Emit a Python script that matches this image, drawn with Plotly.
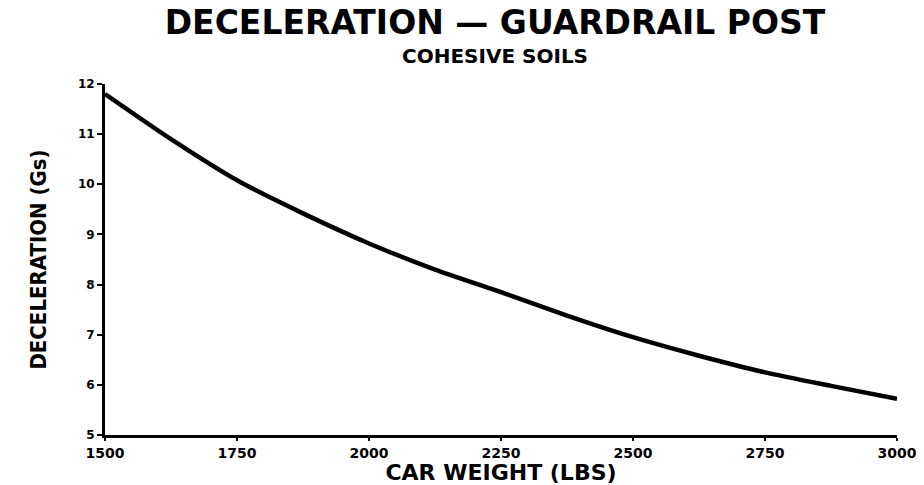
import plotly.graph_objects as go

car_weight = [1500, 1625, 1750, 1875, 2000, 2125, 2250, 2375, 2500, 2625, 2750, 2875, 3000]
deceleration = [11.8, 10.9, 10.08, 9.42, 8.82, 8.3, 7.85, 7.38, 6.95, 6.58, 6.25, 5.98, 5.72]
x_ticks = [1500, 1750, 2000, 2250, 2500, 2750, 3000]
y_ticks = [5, 6, 7, 8, 9, 10, 11, 12]

fig = go.Figure()
fig.add_trace(go.Scatter(
    x=car_weight, y=deceleration, mode="lines",
    line=dict(color="black", width=4.5, shape="spline", smoothing=0.6),
    showlegend=False, hoverinfo="skip",
))

fig.update_layout(
    width=924, height=485,
    paper_bgcolor="white", plot_bgcolor="white",
    margin=dict(l=105, r=27, t=84, b=50),
    title=dict(
        text="<b>DECELERATION — GUARDRAIL POST</b>",
        x=495/924, xanchor="center", xref="container",
        y=1-22/485, yanchor="middle", yref="container",
        font=dict(family="DejaVu Sans", size=33, color="black"),
    ),
    annotations=[dict(
        text="<b>COHESIVE SOILS</b>", xref="paper", yref="paper",
        x=(495-105)/792, y=(435-56)/351, xanchor="center", yanchor="middle",
        showarrow=False, font=dict(family="DejaVu Sans", size=20, color="black"),
    )],
    xaxis=dict(
        range=[1500, 3000], tickvals=x_ticks, ticktext=[f"<b>{t}</b>" for t in x_ticks],
        showgrid=False, zeroline=False, showline=True, linecolor="black", linewidth=3,
        ticks="outside", ticklen=3, tickwidth=2, tickcolor="black", automargin=False,
        tickfont=dict(family="DejaVu Sans", size=14, color="black"),
        title=dict(text="<b>CAR WEIGHT (LBS)</b>", standoff=0,
                   font=dict(family="DejaVu Sans", size=22, color="black")),
    ),
    yaxis=dict(
        range=[5, 12], tickvals=y_ticks, ticktext=[f"<b>{t}</b>" for t in y_ticks],
        showgrid=False, zeroline=False, showline=True, linecolor="black", linewidth=3,
        ticks="outside", ticklen=5, tickwidth=2, tickcolor="black", automargin=False,
        tickfont=dict(family="DejaVu Sans", size=12, color="black"),
        title=dict(text="<b>DECELERATION (Gs)</b>", standoff=26,
                   font=dict(family="DejaVu Sans Condensed", size=22, color="black")),
    ),
)

fig.write_html("out.html", config={"displayModeBar": False},
               post_script="document.body.style.margin='0px';")
